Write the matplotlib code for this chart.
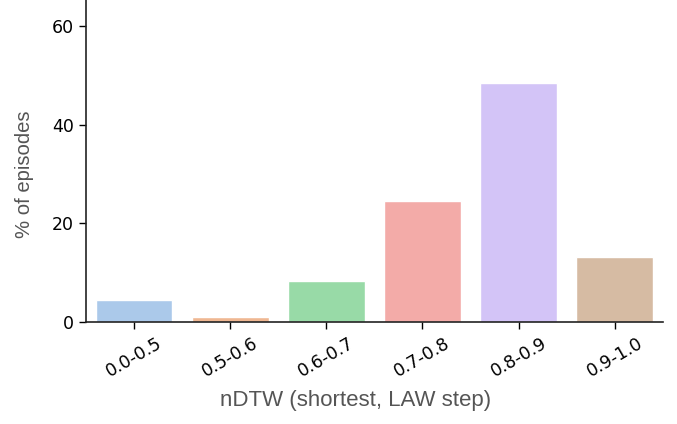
import matplotlib
matplotlib.use('Agg')
import matplotlib.pyplot as plt
import seaborn as sns

bins = ['0.0-0.5', '0.5-0.6', '0.6-0.7', '0.7-0.8', '0.8-0.9', '0.9-1.0']
pct_episodes = [4.4, 1.1, 8.3, 24.5, 48.5, 13.2]

sns.set_style('ticks')
plt.rcParams['font.family'] = ['DejaVu Sans']

fig = plt.figure(figsize=(6.77, 4.24), dpi=100)
ax = fig.add_axes([0.127, 0.240, 0.852, 0.76])

sns.barplot(x=bins, y=pct_episodes, hue=bins, palette='pastel', legend=False, ax=ax)

ax.set_ylim(0, 65.2)
ax.set_xlim(-0.5, 5.5)
ax.set_yticks([0, 20, 40, 60])
ax.tick_params(axis='both', labelsize=12.5, colors='black', length=5, width=1)
ax.tick_params(axis='x', rotation=30)
ax.set_xlabel('nDTW (shortest, LAW step)', fontsize=16, color='#555555',
              family='Liberation Sans')
ax.set_ylabel('% of episodes', fontsize=14.6, color='#555555',
              family='Liberation Sans')
ax.xaxis.set_label_coords(0.468, -0.211)
ax.yaxis.set_label_coords(-0.090, 0.46)
for s in ['left', 'bottom']:
    ax.spines[s].set_color('#222222')
    ax.spines[s].set_linewidth(1.2)
sns.despine(ax=ax)

fig.savefig('out.png', dpi=100)
